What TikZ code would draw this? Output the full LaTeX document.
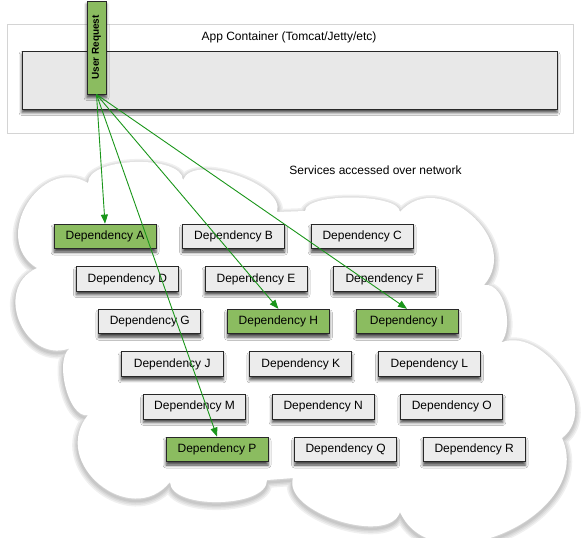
\documentclass[tikz,border=0pt]{standalone}
\usepackage{fontspec}
\setmainfont{Liberation Sans}
\usetikzlibrary{arrows.meta,shadows.blur}
\definecolor{depgray}{RGB}{236,236,236}
\definecolor{contgray}{RGB}{232,232,232}
\definecolor{depgreen}{RGB}{139,188,96}
\definecolor{arrgreen}{RGB}{26,150,26}
\definecolor{edgedark}{RGB}{40,40,40}
\definecolor{outergray}{RGB}{212,212,212}
\tikzset{
  softshadow/.style={blur shadow={shadow xshift=0pt, shadow yshift=-3.5pt, shadow blur radius=3pt, shadow opacity=75}},
  depbox/.style={draw=edgedark, line width=0.9pt, fill=depgray, minimum width=102pt, minimum height=24.5pt, inner sep=0pt, font=\fontsize{12}{14}\selectfont, softshadow},
  greendep/.style={depbox, fill=depgreen},
  arr/.style={draw=arrgreen, line width=0.9pt, -{Triangle[length=9pt,width=7pt]}},
  lbl/.style={font=\fontsize{12}{14}\selectfont, inner sep=0pt},
  cloudshadow/.style={draw=black, opacity=0.06, line join=round}
}
\newcommand{\mycloudpath}{(37,268)
  to[bend left=90, looseness=1.43] (88,183)
  to[bend left=90, looseness=0.70] (183,180)
  to[bend left=90, looseness=0.75] (277,212)
  -- (305,211)
  to[bend left=90, looseness=0.50] (400,212)
  to[bend left=90, looseness=1.36] (484,285)
  to[bend left=90, looseness=0.99] (493,347)
  to[bend left=90, looseness=1.19] (562,438)
  to[bend left=90, looseness=1.19] (400,512)
  to[bend left=90, looseness=0.82] (293,478)
  -- (267,480)
  to[bend left=90, looseness=0.74] (170,482)
  to[bend left=90, looseness=1.50] (88,415)
  to[bend left=90, looseness=0.78] (73,347)
  to[bend left=90, looseness=1.50] cycle}
\begin{document}
\begin{tikzpicture}[x=1pt,y=-1pt]
\useasboundingbox (0,0) rectangle (582,538);
% app container
\node[draw=outergray, line width=0.8pt, fill=white, minimum width=566pt, minimum height=109pt, inner sep=0pt] (outer) at (290,78.5) {};
\node[draw=edgedark, line width=0.9pt, fill=contgray, minimum width=535pt, minimum height=58pt, inner sep=0pt, softshadow] (cont) at (289.5,80) {};
\node[lbl] (apptitle) at (289,37) {App Container (Tomcat/Jetty/etc)};
% cloud shadow
\begin{scope}[yshift=-2.5pt]
  \draw[cloudshadow, line width=11pt] \mycloudpath;
  \draw[cloudshadow, line width=8pt] \mycloudpath;
  \draw[cloudshadow, line width=5pt] \mycloudpath;
  \draw[cloudshadow, line width=2.5pt] \mycloudpath;
\end{scope}
% cloud
\fill[white] \mycloudpath;
\node[lbl] (services) at (375.5,170) {Services accessed over network};
% dependencies
\node[greendep] (A) at (105,236.3) {Dependency A};
\node[depbox] (B) at (233.6,236.3) {Dependency B};
\node[depbox] (C) at (362.2,236.3) {Dependency C};
\node[depbox] (D) at (127.4,278.9) {Dependency D};
\node[depbox] (E) at (256,278.9) {Dependency E};
\node[depbox] (F) at (384.6,278.9) {Dependency F};
\node[depbox] (G) at (149.8,321.5) {Dependency G};
\node[greendep] (H) at (278.4,321.5) {Dependency H};
\node[greendep] (I) at (407,321.5) {Dependency I};
\node[depbox] (J) at (172.2,364.1) {Dependency J};
\node[depbox] (K) at (300.8,364.1) {Dependency K};
\node[depbox] (L) at (429.4,364.1) {Dependency L};
\node[depbox] (M) at (194.6,406.7) {Dependency M};
\node[depbox] (N) at (323.2,406.7) {Dependency N};
\node[depbox] (O) at (451.8,406.7) {Dependency O};
\node[greendep] (P) at (217,449.3) {Dependency P};
\node[depbox] (Q) at (345.6,449.3) {Dependency Q};
\node[depbox] (R) at (474.2,449.3) {Dependency R};
% user request
\node[draw=edgedark, line width=0.9pt, fill=depgreen, minimum width=19pt, minimum height=93pt, inner sep=0pt, softshadow] (ur) at (96.5,47.5) {};
\node[rotate=90, font=\bfseries\fontsize{10}{12}\selectfont, inner sep=0pt] (urtext) at (ur.center) {User Request};
% arrows
\draw[arr] (ur.south) -- (A.north);
\draw[arr] (ur.south) -- (H.north);
\draw[arr] (ur.south) -- (I.north);
\draw[arr] (ur.south) -- (P.north);
\end{tikzpicture}
\end{document}
